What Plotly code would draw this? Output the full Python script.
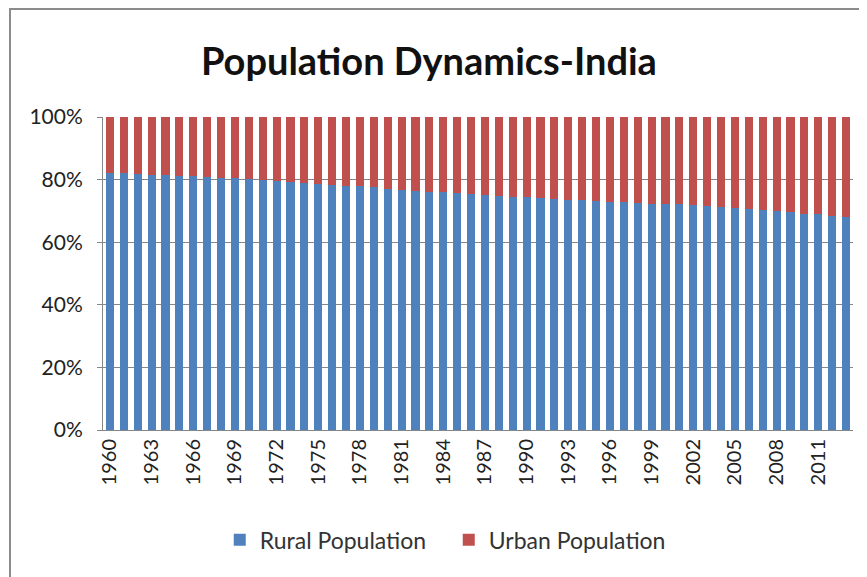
import plotly.graph_objects as go

years = list(range(1960, 2014))
rural = [82.1, 82.0, 81.8, 81.6, 81.4, 81.2, 81.0, 80.8, 80.6, 80.4,
         80.2, 79.9, 79.6, 79.3, 79.0, 78.7, 78.4, 78.1, 77.8, 77.5,
         76.9, 76.7, 76.4, 76.1, 75.9, 75.6, 75.4, 75.1, 74.9, 74.6,
         74.4, 74.1, 73.9, 73.6, 73.4, 73.2, 72.9, 72.7, 72.4, 72.2,
         72.3, 72.1, 71.8, 71.5, 71.2, 70.8, 70.5, 70.2, 69.9, 69.6,
         69.1, 68.9, 68.4, 68.0]
urban = [round(100 - r, 1) for r in rural]
tick_years = [str(y) for y in range(1960, 2014, 3)]
yticks = [0, 20, 40, 60, 80, 100]
ylabels = ["0%", "20%", "40%", "60%", "80%", "100%"]

x = [str(y) for y in years]

fig = go.Figure()
fig.add_trace(go.Bar(x=x, y=rural, name="Rural Population", marker_color="#4F81BD",
                     marker_line_width=0))
fig.add_trace(go.Bar(x=x, y=urban, name="Urban Population", marker_color="#C0504D",
                     marker_line_width=0))

W, H = 859, 569
fig.update_layout(
    barmode="stack",
    bargap=0.42,
    width=W, height=H,
    margin=dict(l=95, r=14, t=109, b=147),
    paper_bgcolor="white", plot_bgcolor="white",
    font=dict(family="Lato", size=20, color="#222222"),
    title=dict(text="<b>Population Dynamics-India</b>", x=0.49, xanchor="center",
               y=1 - 54 / H, yanchor="middle", yref="container",
               font=dict(family="Lato", size=38, color="#111111")),
    legend=dict(orientation="h", x=0.461, xanchor="center", y=-0.351, yanchor="middle",
                font=dict(size=23, color="#333333"), traceorder="normal",
                itemwidth=30, tracegroupgap=0, entrywidth=184, entrywidthmode="pixels"),
    xaxis=dict(type="category", tickmode="array", tickvals=tick_years, ticktext=tick_years,
               tickangle=-90, showline=True, linecolor="#868686", linewidth=1,
               ticks="", showgrid=False, tickfont=dict(size=20, color="#222222")),
    yaxis=dict(range=[0, 100], tickvals=yticks, ticktext=ylabels, showgrid=True,
               gridcolor="#868686", gridwidth=1, showline=True, linecolor="#868686",
               ticks="outside", ticklen=5, tickcolor="#868686", zeroline=False,
               ticklabelstandoff=10,
               tickfont=dict(size=21, color="#222222")),
)

fig.add_shape(type="rect", xref="paper", yref="paper",
              x0=(2 - 95) / 750, y0=-0.6, x1=1.1, y1=(422 - 1) / 313,
              line=dict(color="#8c8c8c", width=2), fillcolor="rgba(0,0,0,0)", layer="below")

fig.write_html("out.html")
